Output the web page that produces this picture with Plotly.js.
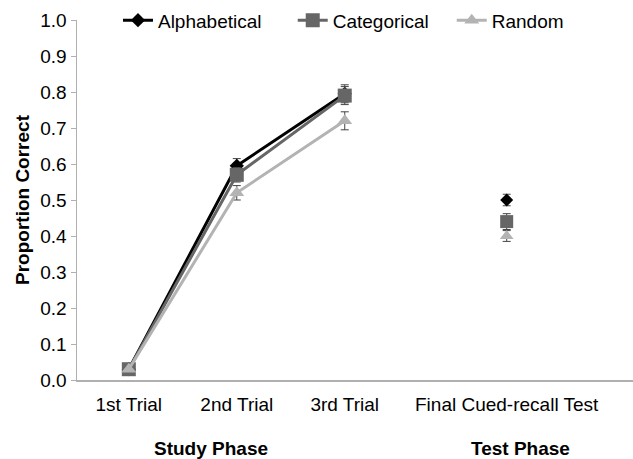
<!DOCTYPE html>
<html>
<head>
<meta charset="utf-8">
<script src="https://cdn.plot.ly/plotly-3.0.1.min.js"></script>
<style>html,body{margin:0;padding:0;background:#fff;}#chart{width:633px;height:459px;}</style>
</head>
<body>
<div id="chart"></div>
<script>
// Category positions and tick labels
const studyX = [0, 1, 2];
const testX = [3.5];
const tickPositions = [0, 1, 2, 3.5];
const tickLabels = ["1st Trial", "2nd Trial", "3rd Trial", "Final Cued-recall Test"];

// Proportion correct (study phase trials)
const alphabeticalStudy = [0.03, 0.595, 0.795];
const categoricalStudy  = [0.03, 0.57, 0.79];
const randomStudy       = [0.03, 0.52, 0.72];
const alphabeticalStudyErr = [0.005, 0.02, 0.025];
const categoricalStudyErr  = [0.005, 0.02, 0.025];
const randomStudyErr       = [0.005, 0.02, 0.025];

// Final cued-recall test
const alphabeticalTest = [0.50];
const categoricalTest  = [0.44];
const randomTest       = [0.40];
const alphabeticalTestErr = [0.016];
const categoricalTestErr  = [0.022];
const randomTestErr       = [0.015];

const seriesNames = ["Alphabetical", "Categorical", "Random"];

const styles = [
  {color: "#000000", symbol: "diamond", size: 11},
  {color: "#666666", symbol: "square", size: 14},
  {color: "#b3b3b3", symbol: "triangle-up", size: 13}
];
const studyVals = [alphabeticalStudy, categoricalStudy, randomStudy];
const studyErrs = [alphabeticalStudyErr, categoricalStudyErr, randomStudyErr];
const testVals = [alphabeticalTest, categoricalTest, randomTest];
const testErrs = [alphabeticalTestErr, categoricalTestErr, randomTestErr];
const legendIds = ["legend", "legend2", "legend3"];

const traces = [];
[0, 1, 2].forEach(i => {
  traces.push({
    x: studyX, y: studyVals[i], name: seriesNames[i], legend: legendIds[i],
    type: "scatter", mode: "lines+markers",
    line: {color: styles[i].color, width: 3},
    marker: {color: styles[i].color, symbol: styles[i].symbol, size: styles[i].size},
    error_y: {type: "data", array: studyErrs[i], visible: true, color: "#444", thickness: 1, width: 4},
    cliponaxis: false
  });
  traces.push({
    x: testX, y: testVals[i], name: seriesNames[i], showlegend: false,
    type: "scatter", mode: "markers",
    marker: {color: styles[i].color, symbol: styles[i].symbol, size: styles[i].size - 1},
    error_y: {type: "data", array: testErrs[i], visible: true, color: "#444", thickness: 1, width: 4}
  });
});

const font = {family: "Liberation Sans, Arial, sans-serif", size: 19, color: "#000"};
const legendBase = {orientation: "h", y: 0.999, xanchor: "left", yanchor: "middle",
                    font: font, bgcolor: "rgba(0,0,0,0)", itemwidth: 30};

const layout = {
  width: 633, height: 459,
  margin: {l: 77, r: 0, t: 20, b: 79},
  paper_bgcolor: "#fff", plot_bgcolor: "#fff",
  font: font,
  showlegend: true,
  legend: Object.assign({}, legendBase, {x: 0.0737}),
  legend2: Object.assign({}, legendBase, {x: 0.388}),
  legend3: Object.assign({}, legendBase, {x: 0.674}),
  xaxis: {
    range: [-0.48, 4.67], showgrid: false, zeroline: false,
    showline: true, linecolor: "#b0b0b0", linewidth: 1.5,
    tickmode: "array", tickvals: tickPositions, ticktext: tickLabels,
    ticks: "", ticklen: 0, ticklabelstandoff: 7, tickfont: font, automargin: false
  },
  yaxis: {
    range: [0, 1], showgrid: false, zeroline: false,
    showline: true, linecolor: "#b0b0b0", linewidth: 1.5,
    dtick: 0.1, tick0: 0, tickformat: ".1f",
    ticks: "outside", ticklen: 5, tickcolor: "#b0b0b0",
    tickfont: font, automargin: false,
    title: {text: "<b>Proportion Correct</b>", font: font, standoff: 5}
  },
  annotations: [
    {text: "<b>Study Phase</b>", xref: "paper", yref: "paper", x: (211 - 77) / 556, y: -0.19,
     xanchor: "center", yanchor: "middle", showarrow: false, font: font},
    {text: "<b>Test Phase</b>", xref: "paper", yref: "paper", x: (520 - 77) / 556, y: -0.19,
     xanchor: "center", yanchor: "middle", showarrow: false, font: font}
  ]
};

Plotly.newPlot("chart", traces, layout, {displayModeBar: false, staticPlot: true});
</script>
</body>
</html>
